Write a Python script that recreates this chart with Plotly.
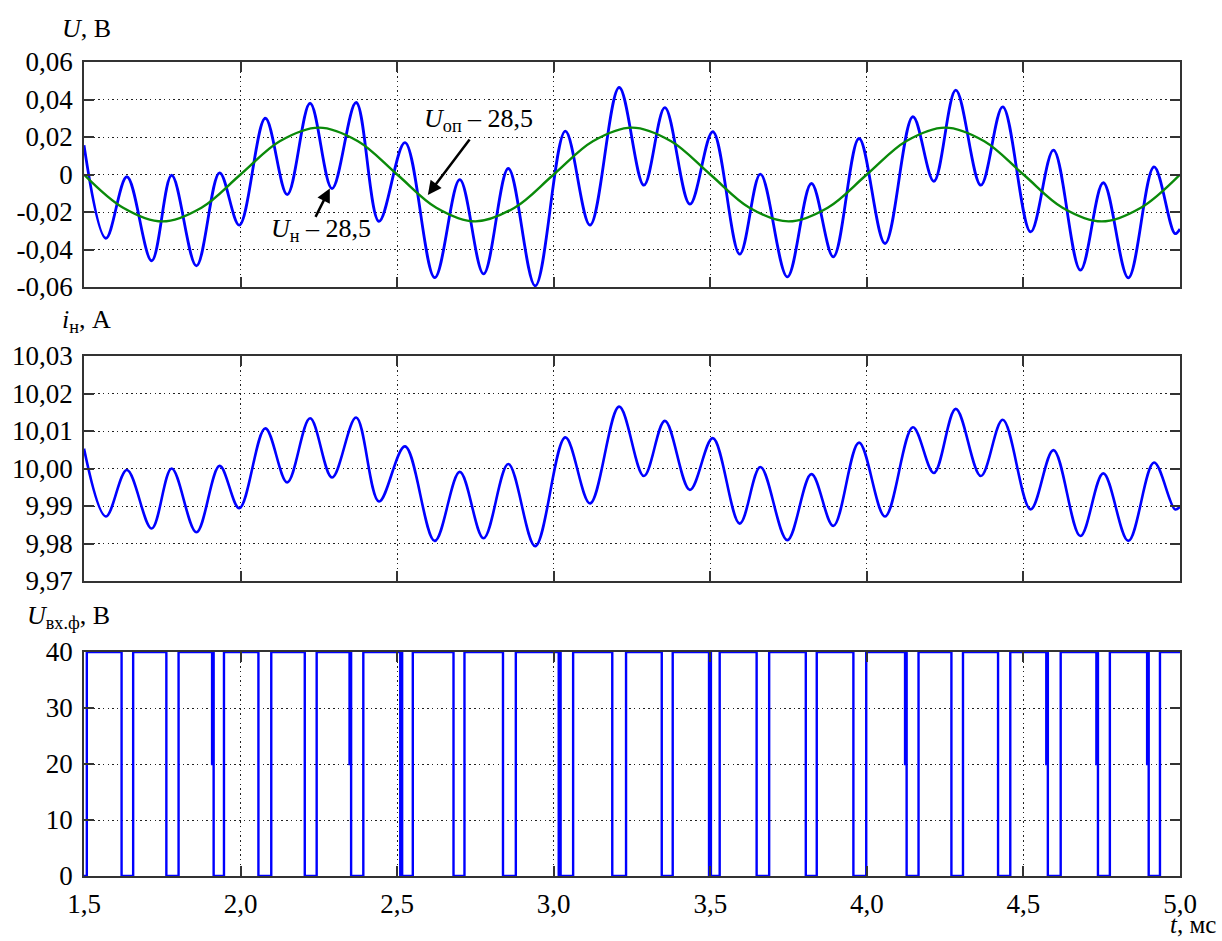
import plotly.graph_objects as go

# ---------------- data ----------------
# times of local extrema of the ripple, ms
t_ext = [1.500, 1.570, 1.637, 1.716, 1.780, 1.859, 1.933, 1.996, 2.079, 2.149,
         2.222, 2.292, 2.369, 2.442, 2.525, 2.620, 2.700, 2.776, 2.855, 2.941,
         3.037, 3.116, 3.209, 3.288, 3.355, 3.435, 3.508, 3.594, 3.660, 3.746,
         3.823, 3.893, 3.975, 4.058, 4.147, 4.214, 4.284, 4.364, 4.434, 4.523,
         4.596, 4.682, 4.755, 4.835, 4.917, 4.984, 5.000]

# U_н - 28.5, V
u_load = [0.0156, -0.034, -0.0012, -0.046, -0.0004, -0.0487, 0.0009, -0.027, 0.030, -0.0107,
          0.038, -0.0075, 0.0384, -0.025, 0.017, -0.055, -0.0027, -0.053, 0.0032, -0.0594,
          0.0231, -0.027, 0.0464, -0.0057, 0.0357, -0.0158, 0.0228, -0.0425, 0.0002, -0.0546,
          -0.0048, -0.0439, 0.0192, -0.0368, 0.0308, -0.0036, 0.045, -0.0057, 0.0361, -0.0306,
          0.013, -0.051, -0.0044, -0.0551, 0.0041, -0.0315, -0.029]

# i_н, A
i_load = [10.0053, 9.9872, 9.9996, 9.9840, 10.0000, 9.9830, 10.0007, 9.9894, 10.0107, 9.9963,
          10.0134, 9.9976, 10.0136, 9.9912, 10.0059, 9.9807, 9.9991, 9.9814, 10.0012, 9.9793,
          10.0083, 9.9907, 10.0165, 9.9980, 10.0127, 9.9943, 10.0081, 9.9853, 10.0004, 9.9809,
          9.9985, 9.9847, 10.0069, 9.9872, 10.0110, 9.9988, 10.0159, 9.9980, 10.0130, 9.9891,
          10.0049, 9.9820, 9.9987, 9.9807, 10.0016, 9.9891, 9.9898]

# reference voltage U_оп - 28.5, V (sampled every 0.125 ms)
t_ref = [1.5, 1.625, 1.75, 1.875, 2.0, 2.125, 2.25, 2.375, 2.5, 2.625, 2.75, 2.875,
         3.0, 3.125, 3.25, 3.375, 3.5, 3.625, 3.75, 3.875, 4.0, 4.125, 4.25, 4.375,
         4.5, 4.625, 4.75, 4.875, 5.0]
u_ref = [0.0, -0.0177, -0.025, -0.0177, 0.0, 0.0177, 0.025, 0.0177, 0.0, -0.0177, -0.025, -0.0177,
         0.0, 0.0177, 0.025, 0.0177, 0.0, -0.0177, -0.025, -0.0177, 0.0, 0.0177, 0.025, 0.0177,
         0.0, -0.0177, -0.025, -0.0177, 0.0]

# PWM input voltage: rising / falling edge times, ms
pwm_high = 40
pwm_mid = 20
rise = [1.509, 1.657, 1.802, 1.947, 2.098, 2.243, 2.392, 2.550, 2.715, 2.879, 3.062, 3.231,
        3.380, 3.530, 3.688, 3.840, 3.998, 4.165, 4.307, 4.458, 4.619, 4.776, 4.936]
fall = [1.620, 1.763, 1.914, 2.057, 2.205, 2.353, 2.510, 2.680, 2.838, 3.016, 3.187, 3.345,
        3.496, 3.648, 3.805, 3.957, 4.127, 4.270, 4.419, 4.578, 4.738, 4.900]
half_glitch = [1.914, 2.353, 4.127, 4.578, 4.738, 4.900]   # short 20 V step before falling
double_fall = [2.510, 3.016, 3.496]                          # doubled falling edge

x_ticks = [1.5, 2.0, 2.5, 3.0, 3.5, 4.0, 4.5, 5.0]
x_ticktext = ["1,5", "2,0", "2,5", "3,0", "3,5", "4,0", "4,5", "5,0"]
u_ticks = [-0.06, -0.04, -0.02, 0.0, 0.02, 0.04, 0.06]
u_ticktext = ["-0,06", "-0,04", "-0,02", "0", "0,02", "0,04", "0,06"]
i_ticks = [9.97, 9.98, 9.99, 10.00, 10.01, 10.02, 10.03]
i_ticktext = ["9,97", "9,98", "9,99", "10,00", "10,01", "10,02", "10,03"]
p_ticks = [0, 10, 20, 30, 40]
p_ticktext = ["0", "10", "20", "30", "40"]

# ---------------- build step series for PWM ----------------
pt = [1.5]
pv = [0]
for k, r in enumerate(rise):
    pt.append(r); pv.append(pwm_high)
    if k < len(fall):
        f = fall[k]
        if f in half_glitch:
            pt += [f - 0.005, f - 0.002]; pv += [pwm_mid, pwm_high]
        pt.append(f); pv.append(0)
        if f in double_fall:
            pt += [f + 0.003, f + 0.006]; pv += [pwm_high, 0]
pt.append(5.0); pv.append(pwm_high)

BLUE = "#0000ff"
GREEN = "#0a8a0a"
FONT = "Liberation Serif, Times New Roman, serif"
TICK_SIZE = 27
TITLE_SIZE = 26

fig = go.Figure()
fig.add_trace(go.Scatter(x=t_ext, y=u_load, mode="lines", line=dict(color=BLUE, width=2.8, shape="spline", smoothing=1.0),
                         xaxis="x", yaxis="y"))
fig.add_trace(go.Scatter(x=t_ref, y=u_ref, mode="lines", line=dict(color=GREEN, width=2.4, shape="spline", smoothing=1.0),
                         xaxis="x", yaxis="y"))
fig.add_trace(go.Scatter(x=t_ext, y=i_load, mode="lines", line=dict(color=BLUE, width=2.6, shape="spline", smoothing=1.0),
                         xaxis="x2", yaxis="y2"))
fig.add_trace(go.Scatter(x=pt, y=pv, mode="lines", line=dict(color=BLUE, width=2.4, shape="hv"),
                         xaxis="x3", yaxis="y3"))

H_TOT = 814.0
def ydom(top_px, bot_px):
    return [(876 - bot_px) / H_TOT, (876 - top_px) / H_TOT]

GRID_DASH = "1.5px,3.2px"
common_x = dict(range=[1.5, 5.0], tickvals=x_ticks, ticktext=x_ticktext, ticks="inside", ticklen=10,
                tickwidth=1.5, tickcolor="#333", mirror="allticks", showline=True, linecolor="#333",
                linewidth=1.5, showgrid=True, gridcolor="#222", griddash=GRID_DASH, gridwidth=1.2,
                zeroline=False, tickfont=dict(family=FONT, size=TICK_SIZE, color="black"))
common_y = dict(ticks="inside", ticklen=10, tickwidth=1.5, tickcolor="#333", mirror="allticks",
                showline=True, linecolor="#333", linewidth=1.5, showgrid=True, gridcolor="#222",
                griddash=GRID_DASH, gridwidth=1.2, zeroline=False, ticklabelstandoff=4,
                tickfont=dict(family=FONT, size=TICK_SIZE, color="black"))

fig.update_layout(
    width=1222, height=941,
    margin=dict(l=80, r=42, t=62, b=65),
    plot_bgcolor="white", paper_bgcolor="white",
    showlegend=False,
    font=dict(family=FONT, color="black", size=TICK_SIZE),
    xaxis=dict(common_x, anchor="y", showticklabels=False),
    xaxis2=dict(common_x, anchor="y2", matches="x", showticklabels=False),
    xaxis3=dict(common_x, anchor="y3", matches="x", showticklabels=True, ticklabelstandoff=3),
    yaxis=dict(common_y, domain=ydom(62, 287), range=[-0.06, 0.06], tickvals=u_ticks, ticktext=u_ticktext),
    yaxis2=dict(common_y, domain=ydom(356, 581), range=[9.97, 10.03], tickvals=i_ticks, ticktext=i_ticktext),
    yaxis3=dict(common_y, domain=ydom(652, 876), range=[0, 40], tickvals=p_ticks, ticktext=p_ticktext),
)

def px_x(x):
    return (x - 80) / 1100.0

def px_y(y):
    return (876 - y) / H_TOT

title_font = dict(family=FONT, size=TITLE_SIZE, color="black")
ann = [
    dict(text="<i>U</i>, В", x=px_x(56), y=px_y(29), xanchor="left", yanchor="middle"),
    dict(text="<i>i</i><sub>н</sub>, А", x=px_x(56), y=px_y(321), xanchor="left", yanchor="middle"),
    dict(text="<i>U</i><sub>вх.ф</sub>, В", x=px_x(21), y=px_y(617), xanchor="left", yanchor="middle"),
]
for a in ann:
    fig.add_annotation(xref="paper", yref="paper", showarrow=False, font=title_font, **a)

# time-axis unit label (bottom-right corner, kept inside the page)
fig.add_annotation(xref="paper", yref="paper", showarrow=False, text="<i>t</i>, мс",
                   x=px_x(1217), y=px_y(939), xanchor="right", yanchor="bottom",
                   font=dict(family=FONT, size=25, color="black"), borderpad=0)

# curve labels
fig.add_annotation(xref="x", yref="y", x=2.578, y=0.029, text="<i>U</i><sub>оп</sub> – 28,5",
                   showarrow=False, xanchor="left", yanchor="middle", font=title_font)
fig.add_annotation(xref="x", yref="y", x=2.092, y=-0.0295, text="<i>U</i><sub>н</sub> – 28,5",
                   showarrow=False, xanchor="left", yanchor="middle", font=title_font)
# arrows
fig.add_annotation(xref="x", yref="y", axref="x", ayref="y", x=2.598, y=-0.0109, ax=2.735, ay=0.0195,
                   text="", showarrow=True, arrowhead=2, arrowsize=1.1, arrowwidth=2.5, arrowcolor="black")
fig.add_annotation(xref="x", yref="y", axref="x", ayref="y", x=2.285, y=-0.0074, ax=2.237, ay=-0.0234,
                   text="", showarrow=True, arrowhead=2, arrowsize=1.1, arrowwidth=2.5, arrowcolor="black")

fig.write_html("out.html")
